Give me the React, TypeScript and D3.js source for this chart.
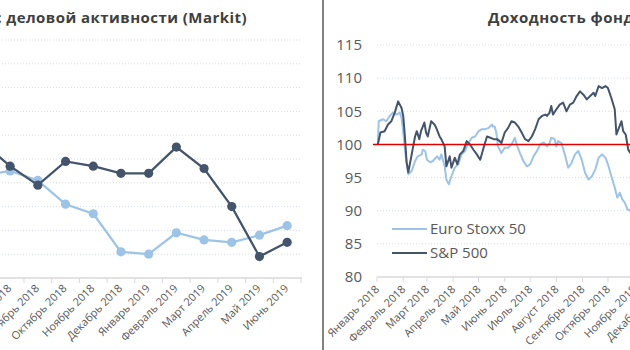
import React from 'react';
import * as d3 from 'd3';

// ---------- Left chart: PMI (Markit) ----------
const pmiMonths = [
  'Июль 2018', 'Август 2018', 'Сентябрь 2018', 'Октябрь 2018', 'Ноябрь 2018', 'Декабрь 2018',
  'Январь 2019', 'Февраль 2019', 'Март 2019', 'Апрель 2019', 'Май 2019', 'Июнь 2019',
];
const pmiUS = [55.7, 54.7, 53.9, 54.9, 54.7, 54.4, 54.4, 55.5, 54.6, 53.0, 50.9, 51.5];
const pmiEZ = [54.3, 54.5, 54.1, 53.1, 52.7, 51.1, 51.0, 51.9, 51.6, 51.5, 51.8, 52.2];
const pmiGrid = [51, 52, 53, 54, 55, 56, 57, 58, 59, 60];
const pmiTitle = 'Индекс деловой активности (Markit)';

// ---------- Right chart: stock indices ----------
const spDates = [
  '2018-01-02', '2018-01-05', '2018-01-10', '2018-01-14', '2018-01-18', '2018-01-22', '2018-01-26', '2018-01-30',
  '2018-02-01', '2018-02-03', '2018-02-05', '2018-02-07', '2018-02-11', '2018-02-15', '2018-02-17', '2018-02-20',
  '2018-02-22', '2018-02-26', '2018-02-28', '2018-03-02', '2018-03-06', '2018-03-10', '2018-03-12', '2018-03-16',
  '2018-03-18', '2018-03-22', '2018-03-24', '2018-03-28', '2018-03-30', '2018-04-03', '2018-04-06', '2018-04-09',
  '2018-04-13', '2018-04-17', '2018-04-21', '2018-04-25', '2018-04-29', '2018-05-03', '2018-05-07', '2018-05-11',
  '2018-05-15', '2018-05-19', '2018-05-23', '2018-05-26', '2018-05-28', '2018-06-01', '2018-06-05', '2018-06-09',
  '2018-06-13', '2018-06-17', '2018-06-21', '2018-06-25', '2018-06-29', '2018-07-03', '2018-07-07', '2018-07-11',
  '2018-07-15', '2018-07-19', '2018-07-21', '2018-07-24', '2018-07-26', '2018-07-28', '2018-08-01', '2018-08-05',
  '2018-08-09', '2018-08-13', '2018-08-17', '2018-08-21', '2018-08-25', '2018-08-29', '2018-09-02', '2018-09-06',
  '2018-09-10', '2018-09-14', '2018-09-16', '2018-09-20', '2018-09-24', '2018-09-28', '2018-10-01', '2018-10-05',
  '2018-10-09', '2018-10-11', '2018-10-14', '2018-10-17', '2018-10-19', '2018-10-22', '2018-10-25', '2018-10-27',
  '2018-11-02', '2018-11-09', '2018-11-16', '2018-11-23', '2018-11-30', '2018-12-07', '2018-12-14', '2018-12-21',
  '2018-12-24', '2018-12-31',
];
const spValues = [
  100, 101.8, 102.0, 103.0, 103.5, 104.8, 106.5, 105.5,
  104.3, 101.2, 97.3, 95.8, 98.5, 101.2, 102.0, 100.8,
  102.0, 103.3, 101.8, 101.2, 103.5, 103.0, 102.5, 101.2,
  100.8, 99.7, 96.7, 98.2, 96.5, 98.0, 97.0, 98.5,
  99.0, 100.5, 100.0, 99.2, 98.5, 97.7, 99.5, 101.2,
  101.0, 100.8, 100.8, 100.5, 100.2, 101.8, 102.5, 103.5,
  103.3, 102.7, 101.8, 100.8, 100.5, 101.2, 102.3, 103.8,
  104.3, 104.5, 104.3, 104.8, 105.8, 104.5, 105.3, 106.0,
  106.3, 105.0, 106.0, 106.3, 107.3, 108.0, 107.5, 106.8,
  107.3, 107.8, 107.3, 108.8, 108.5, 108.8, 108.5, 107.0,
  105.3, 101.5, 102.5, 103.5, 102.0, 101.5, 99.2, 98.8,
  101.0, 103.2, 101.5, 97.7, 102.4, 97.7, 96.4, 89.6,
  87.2, 93.0,
];
const euDates = [
  '2018-01-02', '2018-01-03', '2018-01-08', '2018-01-12', '2018-01-16', '2018-01-20', '2018-01-24', '2018-01-28',
  '2018-01-30', '2018-02-01', '2018-02-04', '2018-02-07', '2018-02-11', '2018-02-15', '2018-02-18', '2018-02-23',
  '2018-02-24', '2018-02-27', '2018-03-01', '2018-03-05', '2018-03-08', '2018-03-13', '2018-03-16', '2018-03-18',
  '2018-03-22', '2018-03-24', '2018-03-27', '2018-03-30', '2018-04-03', '2018-04-07', '2018-04-11', '2018-04-15',
  '2018-04-19', '2018-04-23', '2018-04-27', '2018-05-01', '2018-05-05', '2018-05-09', '2018-05-13', '2018-05-17',
  '2018-05-18', '2018-05-20', '2018-05-22', '2018-05-24', '2018-05-28', '2018-06-01', '2018-06-05', '2018-06-09',
  '2018-06-13', '2018-06-15', '2018-06-19', '2018-06-23', '2018-06-27', '2018-07-01', '2018-07-05', '2018-07-09',
  '2018-07-13', '2018-07-17', '2018-07-21', '2018-07-24', '2018-07-26', '2018-07-30', '2018-08-01', '2018-08-03',
  '2018-08-07', '2018-08-11', '2018-08-15', '2018-08-19', '2018-08-23', '2018-08-27', '2018-08-31', '2018-09-04',
  '2018-09-08', '2018-09-12', '2018-09-16', '2018-09-20', '2018-09-24', '2018-09-28', '2018-10-01', '2018-10-05',
  '2018-10-09', '2018-10-12', '2018-10-15', '2018-10-18', '2018-10-21', '2018-10-24', '2018-10-27', '2018-11-02',
  '2018-11-09', '2018-11-16', '2018-11-23', '2018-11-30', '2018-12-07', '2018-12-14', '2018-12-21', '2018-12-28',
];
const euValues = [
  100, 103.5, 103.8, 103.5, 104.3, 104.8, 104.5, 104.8,
  104.0, 101.8, 98.2, 95.5, 96.0, 97.5, 98.2, 98.5,
  99.2, 99.0, 97.7, 97.3, 97.5, 98.2, 97.7, 98.5,
  96.7, 94.7, 94.0, 95.2, 96.5, 97.0, 98.5, 99.0,
  100.2, 101.0, 101.2, 102.0, 102.3, 102.3, 102.5, 103.0,
  102.7, 102.7, 101.8, 99.7, 98.7, 99.5, 99.5, 100.0,
  101.0, 100.0, 98.7, 97.5, 96.7, 97.0, 98.2, 99.0,
  100.0, 100.3, 99.7, 100.2, 101.0, 100.8, 99.7, 100.5,
  100.2, 98.5, 96.5, 97.2, 98.5, 99.0, 97.7, 95.7,
  94.7, 95.2, 96.2, 98.0, 98.5, 98.0, 97.0, 95.2,
  93.5, 92.0, 92.7, 91.7, 91.2, 90.2, 90.0, 92.0,
  91.8, 91.0, 89.5, 90.5, 88.5, 88.5, 86.5, 85.7,
];
const stockMonths = [
  'Январь 2018', 'Февраль 2018', 'Март 2018', 'Апрель 2018', 'Май 2018', 'Июнь 2018',
  'Июль 2018', 'Август 2018', 'Сентябрь 2018', 'Октябрь 2018', 'Ноябрь 2018', 'Декабрь 2018',
];
const stockTicks = [80, 85, 90, 95, 100, 105, 110, 115];
const stockTitle = 'Доходность фондовых индексов';
const seriesNames = ['Euro Stoxx 50', 'S&P 500'];

const DARK = '#44546a';
const LIGHT = '#9dc3e6';
const GRID = '#d5dce8';
const AXIS = '#d9d9d9';
const LABEL = '#595959';
const FONT = "'Open Sans', 'DejaVu Sans', sans-serif";

export default function App() {
  // Left chart scales
  const bandW = 27.7;
  const xL = d3.scaleBand<string>().domain(pmiMonths).range([301 - pmiMonths.length * bandW, 301]).padding(0);
  const yL = d3.scaleLinear().domain([50, 60]).range([278, 40]);
  const cx = (m: string) => (xL(m) as number) + xL.bandwidth() / 2;
  const lineL = d3.line<number>().x((_, i) => cx(pmiMonths[i])).y((v) => yL(v));

  // Right chart scales
  const parse = d3.timeParse('%Y-%m-%d');
  const x0 = new Date(2018, 0, 1);
  const x1 = new Date(2019, 0, 1);
  const xR = d3.scaleTime().domain([x0, x1]).range([377, 377 + 365 * 0.846]);
  const yR = d3.scaleLinear().domain([80, 115]).range([277, 45]);
  const spPts = spDates.map((d, i) => [parse(d) as Date, spValues[i]] as [Date, number]);
  const euPts = euDates.map((d, i) => [parse(d) as Date, euValues[i]] as [Date, number]);
  const lineR = d3.line<[Date, number]>().x((d) => xR(d[0])).y((d) => yR(d[1]));
  const monthTicks = d3.timeMonth.range(x0, x1);

  return (
    <svg width={630} height={350} style={{ position: 'absolute', left: 0, top: 0, background: '#fff' }} fontFamily={FONT}>
      {/* ===== Left chart ===== */}
      <text x={247} y={23} textAnchor="end" fontSize={15} letterSpacing={0.45} fontWeight={700} fill="#404040">{pmiTitle}</text>
      {pmiGrid.map((g) => (
        <line key={g} x1={-40} x2={302} y1={yL(g)} y2={yL(g)} stroke={GRID} strokeWidth={1} strokeDasharray="1 2" />
      ))}
      <line x1={-40} x2={302} y1={yL(50)} y2={yL(50)} stroke={AXIS} strokeWidth={1.5} />
      {pmiMonths.map((m) => (
        <line key={m} x1={(xL(m) as number) + bandW} x2={(xL(m) as number) + bandW} y1={yL(50)} y2={yL(50) + 5} stroke={AXIS} strokeWidth={1} />
      ))}
      {pmiMonths.map((m) => (
        <text key={m} transform={`translate(${cx(m) + 2},${289}) rotate(-45)`} textAnchor="end" fontSize={11} fill={LABEL}>{m}</text>
      ))}
      <path d={lineL(pmiEZ) || ''} fill="none" stroke={LIGHT} strokeWidth={2.25} />
      {pmiEZ.map((v, i) => (
        <circle key={i} cx={cx(pmiMonths[i])} cy={yL(v)} r={4.6} fill={LIGHT} />
      ))}
      <path d={lineL(pmiUS) || ''} fill="none" stroke={DARK} strokeWidth={2.25} />
      {pmiUS.map((v, i) => (
        <circle key={i} cx={cx(pmiMonths[i])} cy={yL(v)} r={4.6} fill={DARK} />
      ))}

      {/* divider */}
      <line x1={323} x2={323} y1={0} y2={350} stroke="#595959" strokeWidth={1.5} />

      {/* ===== Right chart ===== */}
      <text x={488} y={23} textAnchor="start" fontSize={15} letterSpacing={0.5} fontWeight={700} fill="#404040">{stockTitle}</text>
      {stockTicks.filter((t) => t > 80 && t !== 100).map((t) => (
        <line key={t} x1={377} x2={700} y1={yR(t)} y2={yR(t)} stroke={GRID} strokeWidth={1} strokeDasharray="1 2" />
      ))}
      {stockTicks.map((t) => (
        <text key={t} x={362} y={yR(t)} dy="0.35em" textAnchor="end" fontSize={15} fill={LABEL}>{t}</text>
      ))}
      <line x1={377} x2={700} y1={yR(80)} y2={yR(80)} stroke={AXIS} strokeWidth={1.5} />
      {monthTicks.map((d, i) => (
        <g key={i}>
          <line x1={xR(d)} x2={xR(d)} y1={yR(80)} y2={yR(80) + 5} stroke={AXIS} strokeWidth={1} />
          <text transform={`translate(${xR(d) + 3},${290}) rotate(-45)`} textAnchor="end" fontSize={11} fill={LABEL}>{stockMonths[i]}</text>
        </g>
      ))}
      <path d={lineR(euPts) || ''} fill="none" stroke={LIGHT} strokeWidth={2} strokeLinejoin="round" />
      <path d={lineR(spPts) || ''} fill="none" stroke={DARK} strokeWidth={2} strokeLinejoin="round" />
      <line x1={373} x2={700} y1={yR(100)} y2={yR(100)} stroke="#e00000" strokeWidth={1.5} />

      {/* legend */}
      <line x1={392} x2={427} y1={229} y2={229} stroke={LIGHT} strokeWidth={2} />
      <text x={430} y={229} dy="0.35em" fontSize={15} fill={LABEL}>{seriesNames[0]}</text>
      <line x1={392} x2={427} y1={253} y2={253} stroke={DARK} strokeWidth={2} />
      <text x={430} y={253} dy="0.35em" fontSize={15} fill={LABEL}>{seriesNames[1]}</text>
    </svg>
  );
}
